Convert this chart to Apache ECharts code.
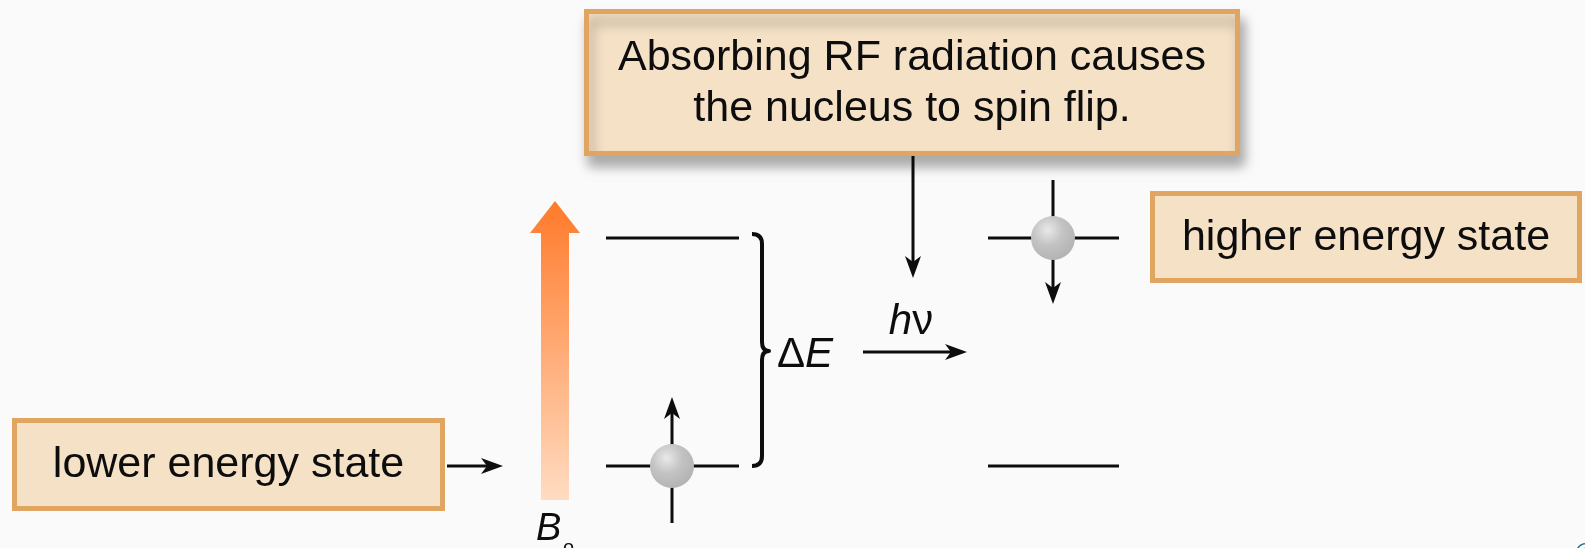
<!DOCTYPE html>
<html>
<head>
<meta charset="utf-8">
<script src="https://cdn.jsdelivr.net/npm/echarts@6/dist/echarts.min.js"></script>
<style>
html, body {margin: 0; padding: 0; background: #fafafa;}
#main {width: 1585px; height: 548px;}
</style>
</head>
<body>
<div id="main"></div>
<script>
// diagram units = pixels of the slide, y grows downwards
var boxTexts = ['Absorbing RF radiation causes\nthe nucleus to spin flip.', 'lower energy state', 'higher energy state'];
var boxLeft = [584, 12, 1150];
var boxTop = [9, 418, 191];
var boxRight = [1240, 445, 1582];
var boxBottom = [156, 511, 283];

var levelY = [238, 466];          // upper / lower energy level
var levelLeftX = [606, 739];      // before absorption
var levelRightX = [988, 1119];    // after absorption

var nucleusX = [672, 1053];
var nucleusY = [466, 238];
var spinFrom = [[672, 523], [1053, 180]];
var spinTo = [[672, 397], [1053, 304]];

var arrowFrom = [[447, 466], [913, 156], [863, 352]];
var arrowTo = [[503, 466], [913, 278], [967, 352]];

var braceX = [752, 762, 769];
var braceY = [234, 351, 466];

var fieldArrow = [[541, 500], [541, 233], [530, 233], [555, 201], [580, 233], [569, 233], [569, 500]];

var labels = ['ΔE', 'hν', 'B', 'o'];
var labelX = [777, 911, 536, 563];
var labelY = [355, 322, 529, 548];

var FONT = '"Liberation Sans", Arial, Helvetica, sans-serif';
var INK = '#0d0d0d';

var myChart = echarts.init(document.getElementById('main'));

function arrowItem(params, api) {
    var i = params.dataIndex;
    var a = api.coord(api.value(4) ? spinFrom[i] : arrowFrom[i]);
    var b = api.coord(api.value(4) ? spinTo[i] : arrowTo[i]);
    var dx = b[0] - a[0], dy = b[1] - a[1];
    var len = Math.sqrt(dx * dx + dy * dy);
    var ux = dx / len, uy = dy / len;
    var hl = 22, hw = 8, notch = 6;
    var base = [b[0] - ux * hl, b[1] - uy * hl];
    var mid = [b[0] - ux * (hl - notch), b[1] - uy * (hl - notch)];
    return {
        type: 'group',
        children: [
            {
                type: 'line',
                shape: {x1: a[0], y1: a[1], x2: mid[0], y2: mid[1]},
                style: {stroke: INK, lineWidth: 3}
            },
            {
                type: 'polygon',
                shape: {points: [b, [base[0] - uy * hw, base[1] + ux * hw], mid, [base[0] + uy * hw, base[1] - ux * hw]]},
                style: {fill: INK}
            }
        ]
    };
}

var levelData = [];
levelY.forEach(function (y) {
    levelData.push([levelLeftX[0], y, levelLeftX[1]]);
    levelData.push([levelRightX[0], y, levelRightX[1]]);
});

var boxData = boxTexts.map(function (t, i) {
    return [boxLeft[i], boxTop[i], boxRight[i], boxBottom[i]];
});

option = {
    animation: false,
    backgroundColor: '#fafafa',
    grid: {left: 0, right: 0, top: 0, bottom: 0},
    xAxis: {type: 'value', min: 0, max: 1585, show: false},
    yAxis: {type: 'value', min: 0, max: 548, inverse: true, show: false},
    series: [
        {
            // B0 field arrow
            type: 'custom',
            z: 1,
            data: [[fieldArrow[3][0], fieldArrow[3][1]]],
            renderItem: function (params, api) {
                return {
                    type: 'polygon',
                    shape: {points: fieldArrow.map(function (p) { return api.coord(p); })},
                    style: {
                        fill: new echarts.graphic.LinearGradient(0, 0, 0, 1, [
                            {offset: 0, color: '#ff7a2a'},
                            {offset: 1, color: '#ffdcc2'}
                        ])
                    }
                };
            }
        },
        {
            // energy levels
            type: 'custom',
            z: 2,
            data: levelData,
            renderItem: function (params, api) {
                var a = api.coord([api.value(0), api.value(1)]);
                var b = api.coord([api.value(2), api.value(1)]);
                return {
                    type: 'line',
                    shape: {x1: a[0], y1: a[1], x2: b[0], y2: b[1]},
                    style: {stroke: INK, lineWidth: 3}
                };
            }
        },
        {
            // spin axes
            type: 'custom',
            z: 3,
            data: spinFrom.map(function (p, i) { return [p[0], p[1], spinTo[i][0], spinTo[i][1], 1]; }),
            renderItem: arrowItem
        },
        {
            // arrows
            type: 'custom',
            z: 3,
            data: arrowFrom.map(function (p, i) { return [p[0], p[1], arrowTo[i][0], arrowTo[i][1], 0]; }),
            renderItem: arrowItem
        },
        {
            // nuclei
            type: 'custom',
            z: 4,
            data: nucleusX.map(function (x, i) { return [x, nucleusY[i]]; }),
            renderItem: function (params, api) {
                var c = api.coord([api.value(0), api.value(1)]);
                var r = api.size([22, 22])[0];
                return {
                    type: 'circle',
                    shape: {cx: c[0], cy: c[1], r: r},
                    style: {
                        fill: new echarts.graphic.RadialGradient(0.38, 0.32, 0.7, [
                            {offset: 0, color: '#e9e9e9'},
                            {offset: 0.5, color: '#c3c3c3'},
                            {offset: 1, color: '#b3b3b3'}
                        ])
                    }
                };
            }
        },
        {
            // brace
            type: 'custom',
            z: 2,
            data: [[braceX[1], braceY[1]]],
            renderItem: function (params, api) {
                var p = function (x, y) { return api.coord([x, y]).join(' '); };
                var d = 'M' + p(braceX[0], braceY[0]) +
                    ' Q' + p(braceX[1], braceY[0]) + ' ' + p(braceX[1], braceY[0] + 10) +
                    ' L' + p(braceX[1], braceY[1] - 9) +
                    ' Q' + p(braceX[1], braceY[1]) + ' ' + p(braceX[2], braceY[1]) +
                    ' Q' + p(braceX[1], braceY[1]) + ' ' + p(braceX[1], braceY[1] + 9) +
                    ' L' + p(braceX[1], braceY[2] - 10) +
                    ' Q' + p(braceX[1], braceY[2]) + ' ' + p(braceX[0], braceY[2]);
                return {
                    type: 'path',
                    shape: {pathData: d},
                    style: {fill: null, stroke: INK, lineWidth: 4, lineJoin: 'round'}
                };
            }
        },
        {
            // text boxes
            type: 'custom',
            z: 5,
            data: boxData,
            renderItem: function (params, api) {
                var a = api.coord([api.value(0), api.value(1)]);
                var b = api.coord([api.value(2), api.value(3)]);
                var first = params.dataIndex === 0;
                return {
                    type: 'group',
                    children: [
                        {
                            type: 'rect',
                            shape: {x: a[0] + 2.5, y: a[1] + 2.5, width: b[0] - a[0] - 5, height: b[1] - a[1] - 5},
                            style: {
                                fill: '#f5e1c6',
                                stroke: '#e0a661',
                                lineWidth: 5,
                                shadowBlur: first ? 12 : 0,
                                shadowOffsetX: first ? 4 : 0,
                                shadowOffsetY: first ? 10 : 0,
                                shadowColor: 'rgba(0,0,0,0.3)'
                            }
                        },
                        {
                            type: 'text',
                            x: (a[0] + b[0]) / 2,
                            y: (a[1] + b[1]) / 2 + 1,
                            style: {
                                text: boxTexts[params.dataIndex],
                                fill: INK,
                                fontSize: 43,
                                fontFamily: FONT,
                                lineHeight: 51,
                                align: 'center',
                                verticalAlign: 'middle'
                            }
                        }
                    ]
                };
            }
        },
        {
            // symbols: delta E, h nu, B0
            type: 'custom',
            z: 6,
            data: labelX.map(function (x, i) { return [x, labelY[i]]; }),
            renderItem: function (params, api) {
                var c = api.coord([api.value(0), api.value(1)]);
                var i = params.dataIndex;
                var t = labels[i];
                var style = {fill: INK, fontFamily: FONT, fontSize: 42, verticalAlign: 'middle', align: 'left'};
                if (i === 0) {
                    style.text = '{n|Δ}{i|E}';
                    style.rich = {n: {fontSize: 42, fontFamily: FONT, fill: INK}, i: {fontSize: 42, fontFamily: FONT, fontStyle: 'italic', fill: INK}};
                } else if (i === 1) {
                    style.text = '{i|h}{n|ν}';
                    style.align = 'center';
                    style.rich = {n: {fontSize: 42, fontFamily: FONT, fill: INK}, i: {fontSize: 42, fontFamily: FONT, fontStyle: 'italic', fill: INK}};
                } else if (i === 2) {
                    style.text = t;
                    style.fontStyle = 'italic';
                    style.fontSize = 38;
                } else {
                    style.text = t;
                    style.fontSize = 20;
                }
                return {type: 'text', x: c[0], y: c[1], style: style};
            }
        },
        {
            // cut-off mark bottom right
            type: 'custom',
            z: 6,
            data: [[1575, 541]],
            renderItem: function (params, api) {
                var c = api.coord([api.value(0), api.value(1)]);
                return {
                    type: 'text', x: c[0], y: c[1],
                    style: {text: '©', fill: '#1c6f8c', fontSize: 30, fontFamily: FONT, align: 'left', verticalAlign: 'top'}
                };
            }
        }
    ]
};

myChart.setOption(option);

window.addEventListener('resize', function () {
    myChart.resize();
});
</script>
</body>
</html>
